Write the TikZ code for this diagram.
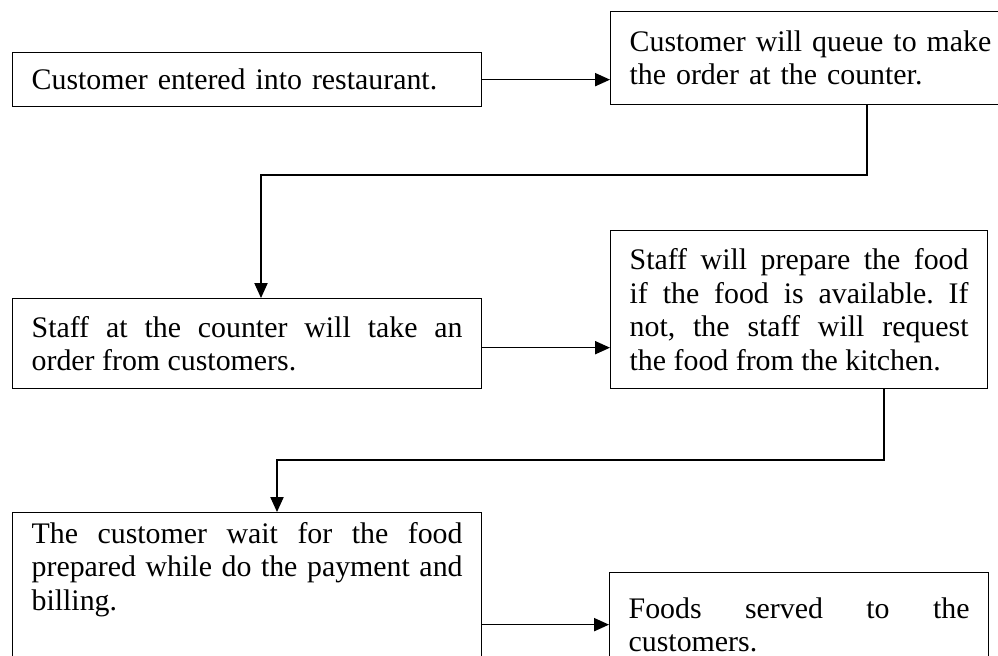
\documentclass[tikz,border=0pt]{standalone}
\usepackage{fontspec}
\setmainfont{Liberation Serif}
\usetikzlibrary{arrows.meta}
\frenchspacing

\begin{document}
\begin{tikzpicture}[x=0.02cm,y=-0.02cm]
        \tikzstyle{stepbox} = [draw,line width=0.75pt,anchor=north west,inner xsep=0.38cm,font=\fontsize{17}{19}\selectfont]
        \tikzstyle{flow} = [line width=0.75pt,-{Triangle[length=8.5pt,width=7.5pt]}]

        \path[use as bounding box] (0,0) rectangle (998,656);
        \clip (0,0) rectangle (998,656);


        \node[stepbox,text width=8.62cm,align=left,minimum height=1.08cm] (enter) at (12,52){Customer entered into restaurant.};
        \node[stepbox,text width=7.6cm,align=left,minimum height=1.86cm] (queue) at (610,11){Customer will queue to make\\the order at the counter.};
        \node[stepbox,text width=8.62cm,align=justify,minimum height=1.8cm] (order) at (12,298){Staff at the counter will take an\linebreak order from customers.};
        \node[stepbox,text width=6.78cm,align=justify,minimum height=3.16cm] (prep) at (610,230){Staff will prepare the food\linebreak if the food is available. If\linebreak not, the staff will request\linebreak the food from the kitchen.};
        \node[stepbox,text width=8.62cm,align=justify,text height=0.5cm,text depth=3cm] (wait) at (12,512){The customer wait for the food\linebreak prepared while do the payment and\linebreak billing.};
        \node[stepbox,text width=6.82cm,align=justify,minimum height=2.08cm] (serve) at (609,572){Foods served to the\linebreak customers.};

        \coordinate (qdown) at (867,175);
        \coordinate (odrop) at (261,175);
        \coordinate (pdown) at (884,460);
        \coordinate (wdrop) at (277,460);


        \draw[flow] (enter.east) -- (enter.east -| queue.west);
        \draw[flow] (queue.south -| qdown) -- (qdown) -- (odrop) -- (odrop |- order.north);
        \draw[flow] ([yshift=-2.3pt]order.east) -- ([yshift=-2.3pt]order.east -| prep.west);
        \draw[flow] (prep.south -| pdown) -- (pdown) -- (wdrop) -- (wdrop |- wait.north);
        \draw[flow] (wait.east |- serve.west) -- (serve.west);


\end{tikzpicture}
\end{document}
